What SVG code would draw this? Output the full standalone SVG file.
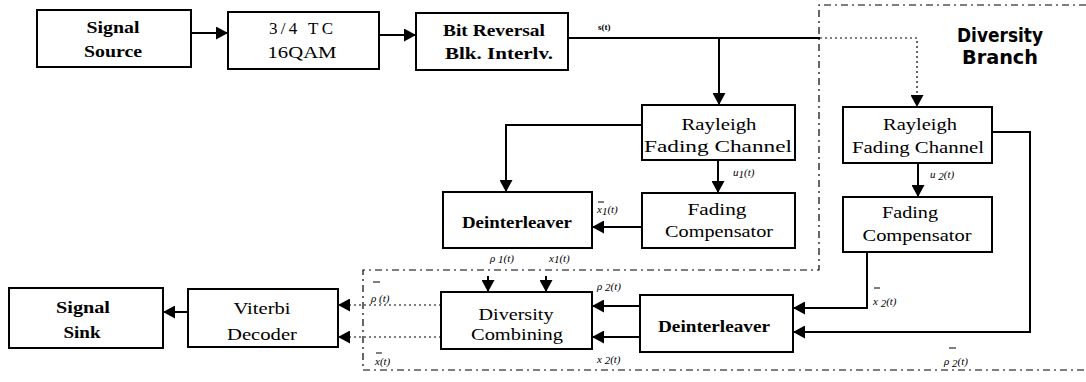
<svg xmlns="http://www.w3.org/2000/svg" width="1086" height="382" viewBox="0 0 1086 382">
<style>
.box{fill:#fff;stroke:#000;stroke-width:2}
.t{font-family:"Liberation Serif","Times New Roman",serif;font-size:17px;fill:#000}
.b{font-weight:bold}
.w{stroke:#000;stroke-width:2;fill:none}
.d{stroke:#000;stroke-width:1.2;fill:none;stroke-dasharray:2 3}
.dd{stroke:#000;stroke-width:1.2;fill:none;stroke-dasharray:7 4 2 4}
.bar{stroke:#000;stroke-width:1}
.s{font-family:"Liberation Serif","Times New Roman",serif;font-size:11px;font-style:italic;fill:#000}
.hd{font-family:"DejaVu Sans Condensed","DejaVu Sans",sans-serif;font-weight:bold;font-size:19px;fill:#000}
</style>
<defs>
<marker id="ah" markerUnits="userSpaceOnUse" markerWidth="13" markerHeight="13" refX="12" refY="6.5" orient="auto" viewBox="0 0 13 13">
<path d="M0,0 L12,6.5 L0,13 z" fill="#000"/>
</marker>
</defs>
<rect width="1086" height="382" fill="#fff"/>
<g id="frames">
<polyline class="dd" points="1086,5 819,5 819,270 363,270 363,370 1086,370"/>
<text class="hd" x="1000" y="42" text-anchor="middle" textLength="86" lengthAdjust="spacingAndGlyphs">Diversity</text>
<text class="hd" x="1000" y="64" text-anchor="middle" textLength="76" lengthAdjust="spacingAndGlyphs">Branch</text>
</g>
<g id="connectors">
<path class="w" d="M191,33 H228" marker-end="url(#ah)"/>
<path class="w" d="M379,35 H416" marker-end="url(#ah)"/>
<path class="w" d="M568,38 H820"/>
<path class="d" d="M820,38 H917 V107" marker-end="url(#ah)"/>
<path class="w" d="M719,38 V105" marker-end="url(#ah)"/>
<path class="w" d="M642,125 H506 V192" marker-end="url(#ah)"/>
<path class="w" d="M718,160 V193" marker-end="url(#ah)"/>
<path class="w" d="M642,227 H592" marker-end="url(#ah)"/>
<path class="w" d="M918,163 V197" marker-end="url(#ah)"/>
<path class="w" d="M992,132 H1030 V332 H793" marker-end="url(#ah)"/>
<path class="w" d="M867,252 V308 H793" marker-end="url(#ah)"/>
<path class="w" d="M640,306 H592" marker-end="url(#ah)"/>
<path class="w" d="M640,337 H592" marker-end="url(#ah)"/>
<path class="w" d="M488,276 V292" marker-end="url(#ah)"/>
<path class="w" d="M546,276 V292" marker-end="url(#ah)"/>
<path class="d" d="M441,305 H338" marker-end="url(#ah)"/>
<path class="d" d="M441,337 H338" marker-end="url(#ah)"/>
<path class="w" d="M188,312 H163" marker-end="url(#ah)"/>
</g>
<g id="labels">
<text class="s" x="598" y="30" style="font-style:normal;font-weight:bold;font-size:9px">s(t)</text>
<text class="s" x="733" y="176">u<tspan dy="2">1</tspan><tspan dy="-2">(t)</tspan></text>
<line class="bar" x1="598" y1="202" x2="604" y2="202"/>
<text class="s" x="597" y="213">x<tspan dy="2">1</tspan><tspan dy="-2">(t)</tspan></text>
<text class="s" x="490" y="262">ρ<tspan dy="1"> 1</tspan><tspan dy="-1">(t)</tspan></text>
<text class="s" x="549" y="262">x<tspan dy="1">1</tspan><tspan dy="-1">(t)</tspan></text>
<text class="s" x="597" y="290">ρ<tspan dy="1"> 2</tspan><tspan dy="-1">(t)</tspan></text>
<text class="s" x="597" y="363">x<tspan dy="1"> 2</tspan><tspan dy="-1">(t)</tspan></text>
<line class="bar" x1="373" y1="282" x2="380" y2="282"/>
<text class="s" x="371" y="302">ρ (t)</text>
<line class="bar" x1="376" y1="353" x2="382" y2="353"/>
<text class="s" x="375" y="365">x(t)</text>
<text class="s" x="930" y="178">u<tspan dy="2"> 2</tspan><tspan dy="-2">(t)</tspan></text>
<line class="bar" x1="874" y1="288" x2="880" y2="288"/>
<text class="s" x="873" y="305">x<tspan dy="2"> 2</tspan><tspan dy="-2">(t)</tspan></text>
<line class="bar" x1="949" y1="348" x2="956" y2="348"/>
<text class="s" x="944" y="365">ρ<tspan dy="2"> 2</tspan><tspan dy="-2">(t)</tspan></text>
</g>
<g id="signal-source">
<rect class="box" x="37" y="10" width="154" height="57"/>
<text class="t b" x="113" y="33" text-anchor="middle" textLength="53" lengthAdjust="spacingAndGlyphs">Signal</text>
<text class="t b" x="113" y="57" text-anchor="middle" textLength="58" lengthAdjust="spacingAndGlyphs">Source</text>
</g>
<g id="tc-16qam">
<rect class="box" x="228" y="12" width="151" height="57"/>
<text class="t" x="301" y="34" text-anchor="middle" textLength="64" lengthAdjust="spacing">3/4  TC</text>
<text class="t" x="302" y="58" text-anchor="middle" textLength="69" lengthAdjust="spacingAndGlyphs">16QAM</text>
</g>
<g id="bit-reversal">
<rect class="box" x="416" y="13" width="152" height="57"/>
<text class="t b" x="494" y="36" text-anchor="middle" textLength="102" lengthAdjust="spacingAndGlyphs">Bit Reversal</text>
<text class="t b" x="499" y="59" text-anchor="middle" textLength="108" lengthAdjust="spacingAndGlyphs">Blk. Interlv.</text>
</g>
<g id="rayleigh-1">
<rect class="box" x="642" y="105" width="153" height="55"/>
<text class="t" x="719" y="130" text-anchor="middle" textLength="75" lengthAdjust="spacingAndGlyphs">Rayleigh</text>
<text class="t" x="718" y="152" text-anchor="middle" textLength="148" lengthAdjust="spacingAndGlyphs">Fading Channel</text>
</g>
<g id="fading-comp-1">
<rect class="box" x="642" y="193" width="153" height="55"/>
<text class="t" x="717" y="215" text-anchor="middle" textLength="59" lengthAdjust="spacingAndGlyphs">Fading</text>
<text class="t" x="719" y="237" text-anchor="middle" textLength="108" lengthAdjust="spacingAndGlyphs">Compensator</text>
</g>
<g id="deinterleaver-1">
<rect class="box" x="443" y="192" width="149" height="56"/>
<text class="t b" x="517" y="228" text-anchor="middle" textLength="110" lengthAdjust="spacingAndGlyphs">Deinterleaver</text>
</g>
<g id="rayleigh-2">
<rect class="box" x="843" y="107" width="149" height="56"/>
<text class="t" x="920" y="130" text-anchor="middle" textLength="74" lengthAdjust="spacingAndGlyphs">Rayleigh</text>
<text class="t" x="918" y="153" text-anchor="middle" textLength="132" lengthAdjust="spacingAndGlyphs">Fading Channel</text>
</g>
<g id="fading-comp-2">
<rect class="box" x="843" y="197" width="149" height="55"/>
<text class="t" x="910" y="218" text-anchor="middle" textLength="56" lengthAdjust="spacingAndGlyphs">Fading</text>
<text class="t" x="917" y="241" text-anchor="middle" textLength="109" lengthAdjust="spacingAndGlyphs">Compensator</text>
</g>
<g id="deinterleaver-2">
<rect class="box" x="640" y="295" width="153" height="57"/>
<text class="t b" x="714" y="332" text-anchor="middle" textLength="112" lengthAdjust="spacingAndGlyphs">Deinterleaver</text>
</g>
<g id="diversity-combining">
<rect class="box" x="441" y="292" width="151" height="57"/>
<text class="t" x="516" y="320" text-anchor="middle" textLength="75" lengthAdjust="spacingAndGlyphs">Diversity</text>
<text class="t" x="517" y="340" text-anchor="middle" textLength="92" lengthAdjust="spacingAndGlyphs">Combining</text>
</g>
<g id="viterbi-decoder">
<rect class="box" x="188" y="289" width="150" height="58"/>
<text class="t" x="262" y="314" text-anchor="middle" textLength="57" lengthAdjust="spacingAndGlyphs">Viterbi</text>
<text class="t" x="262" y="340" text-anchor="middle" textLength="70" lengthAdjust="spacingAndGlyphs">Decoder</text>
</g>
<g id="signal-sink">
<rect class="box" x="9" y="288" width="154" height="60"/>
<text class="t b" x="83" y="313" text-anchor="middle" textLength="54" lengthAdjust="spacingAndGlyphs">Signal</text>
<text class="t b" x="82" y="338" text-anchor="middle" textLength="37" lengthAdjust="spacingAndGlyphs">Sink</text>
</g>
</svg>
